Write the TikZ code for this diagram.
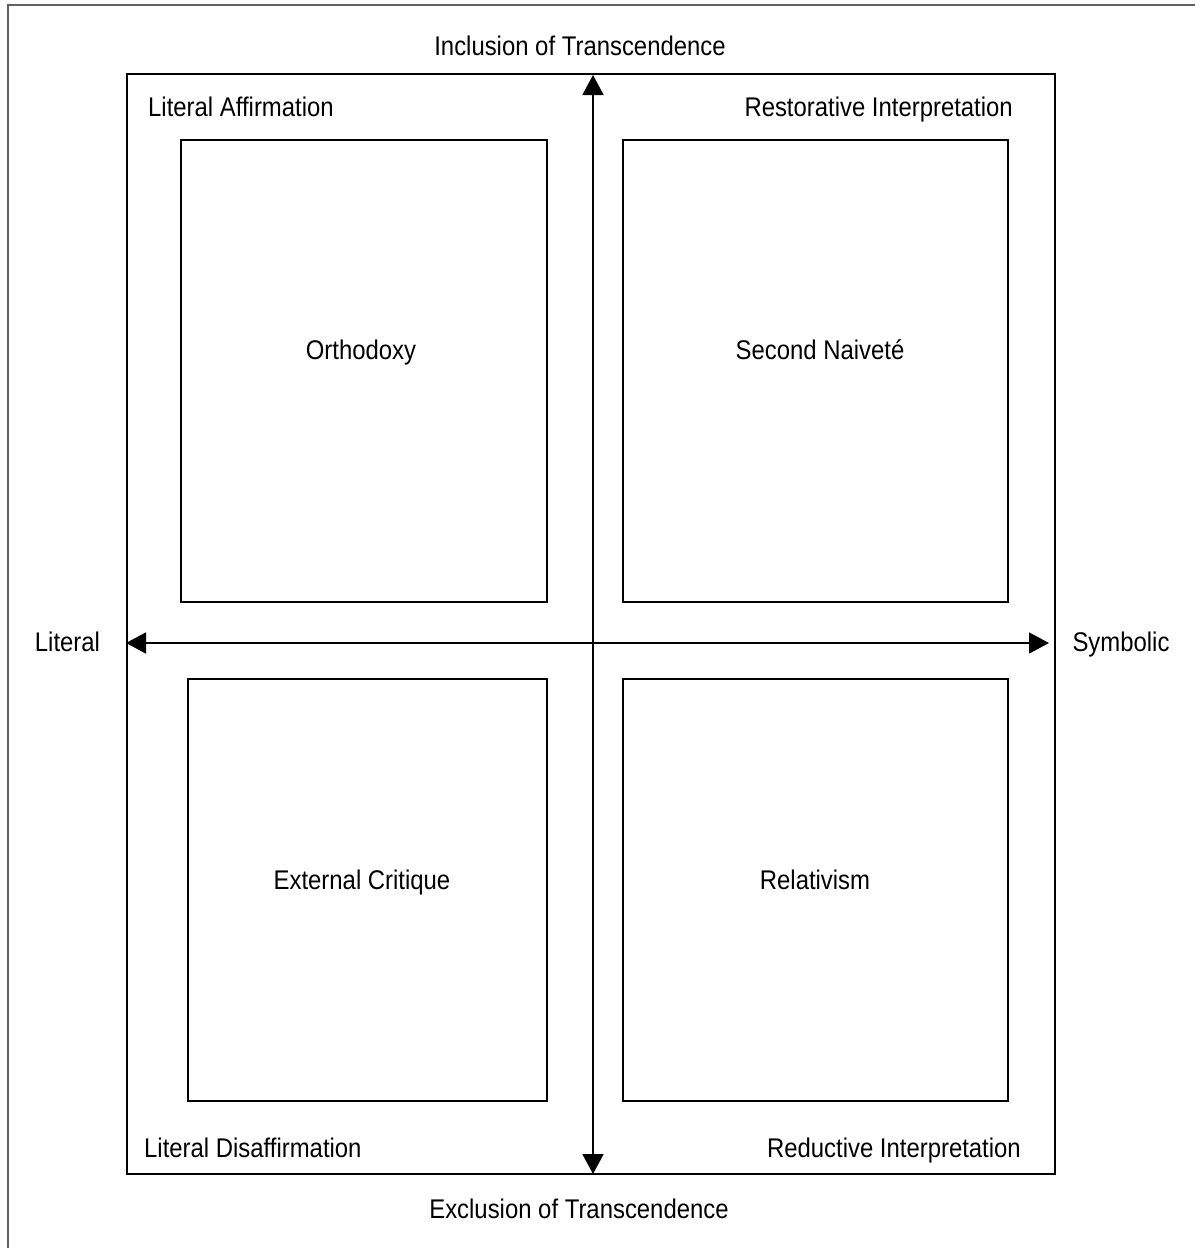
\documentclass[tikz,border=0pt]{standalone}
\usepackage{fontspec}
\setmainfont{Liberation Sans}[FakeStretch=0.885]
\usetikzlibrary{arrows.meta}
\begin{document}
\begin{tikzpicture}[x=1pt,y=-1pt,
  frameline/.style={draw=black!62,line width=1.5pt},
  quadbox/.style={draw=black,line width=1.8pt,rectangle,inner sep=0pt,outer sep=0pt},
  lbl/.style={inner sep=0pt,anchor=base,font=\fontsize{27}{32}\selectfont},
  axis/.style={line width=1.8pt,{Triangle[width=21pt,length=20pt]}-{Triangle[width=21pt,length=20pt]}}]
\useasboundingbox (0,0) rectangle (1195,1248);
% page frame (top and left only)
\coordinate (ftr) at (1195,5);
\coordinate (ftl) at (8,5);
\coordinate (fbl) at (8,1248);
\draw[frameline] (ftr) -- (ftl) -- (fbl);
% inner frame
\node[quadbox,minimum width=928pt,minimum height=1100pt] (frame) at (591,624) {};
% quadrant boxes
\node[quadbox,minimum width=366pt,minimum height=462pt] (orth) at (364,371) {};
\node[quadbox,minimum width=385pt,minimum height=462pt] (naiv) at (815.5,371) {};
\node[quadbox,minimum width=359pt,minimum height=422pt] (crit) at (367.5,890) {};
\node[quadbox,minimum width=385pt,minimum height=422pt] (rela) at (815.5,890) {};
% axes
\coordinate (vtop) at (593,75);
\coordinate (vbot) at (593,1174);
\coordinate (hleft) at (126,643);
\coordinate (hright) at (1049,643);
\draw[axis] (vbot) -- (vtop);
\draw[axis] (hleft) -- (hright);
% labels
\node[lbl] (incl) at (580,55) {Inclusion of Transcendence};
\node[lbl] (excl) at (579,1218) {Exclusion of Transcendence};
\node[lbl] (lit) at (67.5,651) {Literal};
\node[lbl] (sym) at (1121,651) {Symbolic};
\node[lbl,anchor=base west] (la) at (148,116) {Literal Affirmation};
\node[lbl,anchor=base east] (ri) at (1013,116) {Restorative Interpretation};
\node[lbl,anchor=base west] (ld) at (144,1157) {Literal Disaffirmation};
\node[lbl,anchor=base east] (rd) at (1021,1157) {Reductive Interpretation};
\node[lbl] (torth) at (361,359) {Orthodoxy};
\node[lbl] (tnaiv) at (820,359) {Second Naiveté};
\node[lbl] (tcrit) at (362,889) {External Critique};
\node[lbl] (trela) at (815,889) {Relativism};
\end{tikzpicture}
\end{document}
